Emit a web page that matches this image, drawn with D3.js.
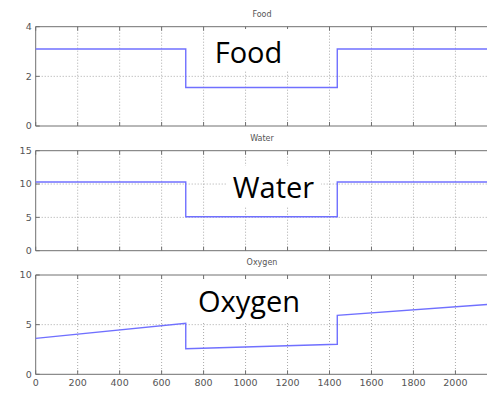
<!DOCTYPE html>
<html><head><meta charset="utf-8">
<script src="https://cdn.jsdelivr.net/npm/d3@7"></script>
<style>body{margin:0;background:#fff}svg{display:block}</style>
</head><body><svg id="c" width="487" height="394"></svg>
<script>
const time = [0, 715, 715, 1437, 1437, 2160];
const foodValues = [3.1, 3.1, 1.55, 1.55, 3.1, 3.1];
const waterValues = [10.3, 10.3, 5.1, 5.1, 10.3, 10.3];
const oxygenValues = [3.62, 5.14, 2.58, 3.02, 5.94, 7.05];
const xTicks = [0, 200, 400, 600, 800, 1000, 1200, 1400, 1600, 1800, 2000];
const foodTicks = [0, 2, 4];
const waterTicks = [0, 5, 10, 15];
const oxygenTicks = [0, 5, 10];
const titles = ["Food", "Water", "Oxygen"];

const svg = d3.select("#c");
const x = d3.scaleLinear().domain([0, 2160]).range([35.7, 489]);

const panels = [
  {title: titles[0], vals: foodValues, ticks: foodTicks, max: 4, top: 26.7, bottom: 126, showX: false,
   big: {x: 248.5, y: 63.3, box: [209, 29, 80, 42]}},
  {title: titles[1], vals: waterValues, ticks: waterTicks, max: 15, top: 150.7, bottom: 250.7, showX: false,
   big: {x: 273.5, y: 198.3, box: [226, 166, 95, 40]}},
  {title: titles[2], vals: oxygenValues, ticks: oxygenTicks, max: 10, top: 275, bottom: 374.3, showX: true,
   big: {x: 249, y: 312.3, box: [192, 280, 115, 42]}}
];

const axisCol = "#707070", gridCol = "#aaaaaa", txtCol = "#555";

panels.forEach(p => {
  const y = d3.scaleLinear().domain([0, p.max]).range([p.bottom, p.top]);
  const g = svg.append("g");
  g.selectAll(".vg").data(xTicks.slice(1)).join("line")
    .attr("x1", d => x(d)).attr("x2", d => x(d))
    .attr("y1", p.top).attr("y2", p.bottom)
    .attr("stroke", gridCol).attr("stroke-width", 1).attr("stroke-dasharray", "1,2");
  g.selectAll(".hg").data(p.ticks.slice(1, -1)).join("line")
    .attr("x1", x(0)).attr("x2", 487)
    .attr("y1", d => y(d)).attr("y2", d => y(d))
    .attr("stroke", gridCol).attr("stroke-width", 1).attr("stroke-dasharray", "1,2");
  g.append("line").attr("x1", x(0)).attr("x2", 487).attr("y1", p.top).attr("y2", p.top).attr("stroke", axisCol);
  g.append("line").attr("x1", x(0)).attr("x2", 487).attr("y1", p.bottom).attr("y2", p.bottom).attr("stroke", axisCol);
  g.append("line").attr("x1", x(0)).attr("x2", x(0)).attr("y1", p.top).attr("y2", p.bottom).attr("stroke", axisCol);
  g.selectAll(".tt").data(xTicks).join("line")
    .attr("x1", d => x(d)).attr("x2", d => x(d)).attr("y1", p.top).attr("y2", p.top + 4)
    .attr("stroke", axisCol);
  g.selectAll(".tb").data(xTicks).join("line")
    .attr("x1", d => x(d)).attr("x2", d => x(d)).attr("y1", p.bottom).attr("y2", p.bottom - 4)
    .attr("stroke", axisCol);
  g.selectAll(".tl").data(p.ticks).join("line")
    .attr("x1", x(0)).attr("x2", x(0) + 4).attr("y1", d => y(d)).attr("y2", d => y(d))
    .attr("stroke", axisCol);
  g.selectAll(".yl").data(p.ticks).join("text")
    .attr("x", x(0) - 4).attr("y", d => y(d)).attr("dy", "0.35em")
    .attr("text-anchor", "end").attr("font-family", "DejaVu Sans, sans-serif")
    .attr("font-size", 9.5).attr("fill", txtCol).text(d => d);
  if (p.showX) {
    g.selectAll(".xl").data(xTicks).join("text")
      .attr("x", d => x(d)).attr("y", p.bottom + 12)
      .attr("text-anchor", "middle").attr("font-family", "DejaVu Sans, sans-serif")
      .attr("font-size", 9.5).attr("fill", txtCol).text(d => d);
  }
  g.append("text").attr("x", 262).attr("y", p.top - 10)
    .attr("text-anchor", "middle").attr("font-family", "DejaVu Sans, sans-serif")
    .attr("font-size", 8).attr("fill", txtCol).text(p.title);
  const pts = time.map((t, i) => [t, p.vals[i]]);
  g.append("path").datum(pts)
    .attr("d", d3.line().x(d => x(d[0])).y(d => y(d[1])))
    .attr("fill", "none").attr("stroke", "#7070ff").attr("stroke-width", 1.4);
  g.append("rect").attr("x", p.big.box[0]).attr("y", p.big.box[1])
    .attr("width", p.big.box[2]).attr("height", p.big.box[3]).attr("fill", "#fff");
  g.append("text").attr("x", p.big.x).attr("y", p.big.y)
    .attr("text-anchor", "middle").attr("font-family", "Open Sans, sans-serif")
    .attr("font-size", 29).attr("fill", "#000").text(p.title);
});
</script></body></html>
